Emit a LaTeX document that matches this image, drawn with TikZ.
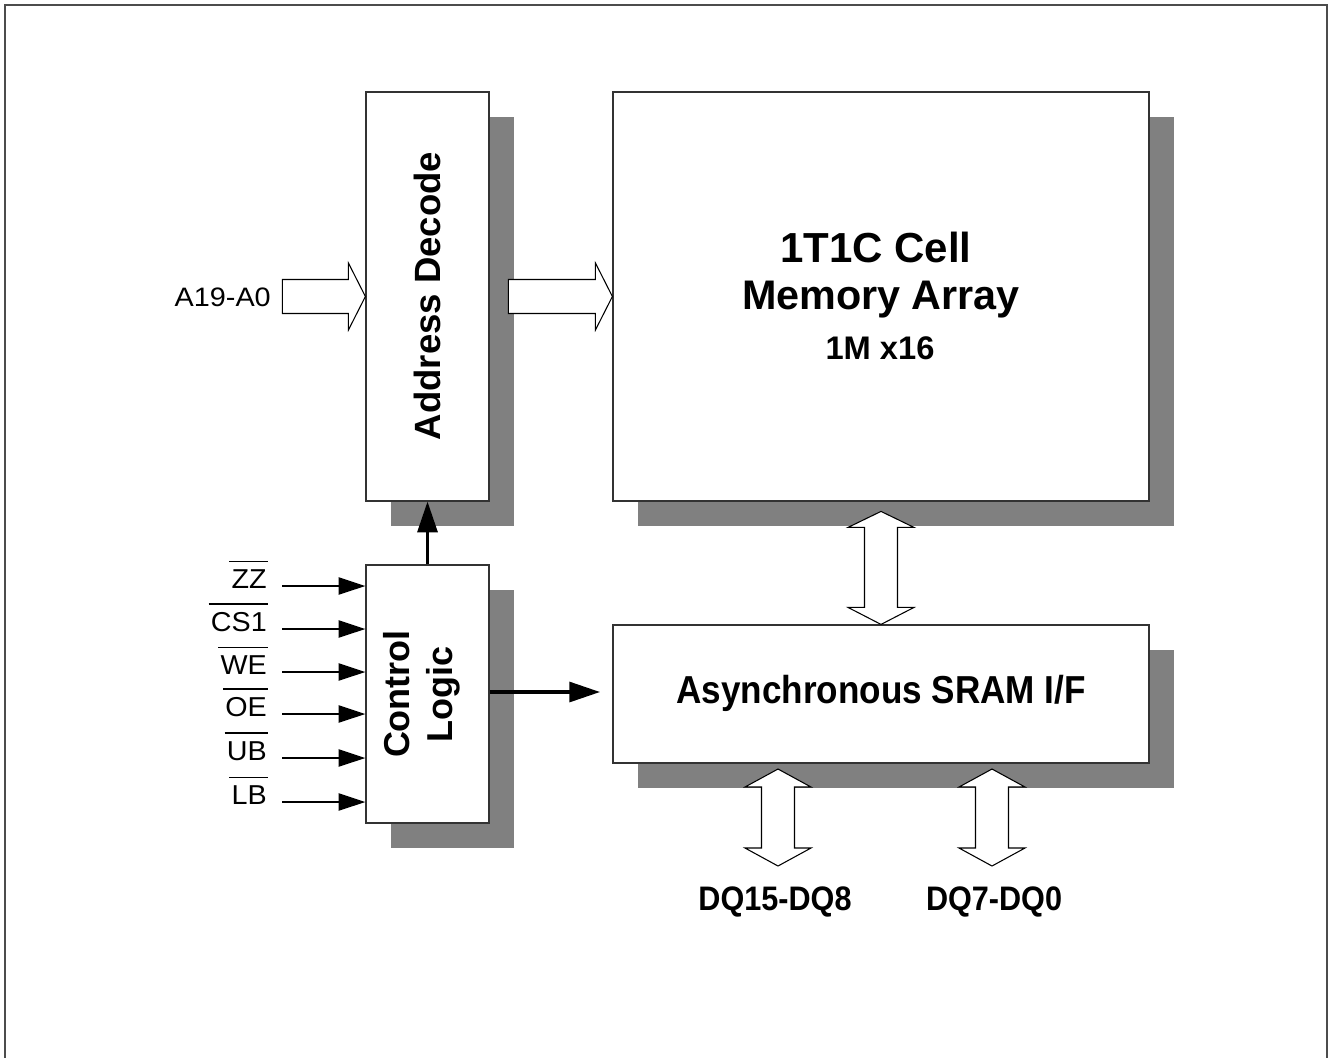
\documentclass[tikz,border=0pt]{standalone}
\usepackage{fontspec}
\setmainfont{Liberation Sans}
\usetikzlibrary{arrows.meta,shadows,calc}
\definecolor{shadowgray}{HTML}{808080}
\begin{document}
\begin{tikzpicture}[x=0.75pt,y=-0.75pt,
  box/.style={draw=black!80, line width=0.9pt, fill=white, inner sep=0pt,
    drop shadow={fill=shadowgray, opacity=1, shadow xshift=18.75pt, shadow yshift=-19pt}},
  hollow/.style={draw=black, line width=0.8pt, fill=white, line join=miter},
  sig/.style={line width=1.5pt, -{Triangle[length=20pt,width=12.75pt]}},
  busarrow/.style={line width=2.3pt, -{Triangle[length=23pt,width=15pt]}},
  lbl/.style={inner sep=0pt, anchor=east, font=\fontsize{20.5}{24}\selectfont},
  bar/.style={line width=1.2pt},
  frame/.style={draw=black!70, line width=1.5pt}
]
\useasboundingbox (0,0) rectangle (1330,1057);
\draw[frame] (5,1060) -- (5,5) -- (1327,5) -- (1327,1060);

% boxes
\node[box, minimum width=92.25pt, minimum height=306.75pt] (ad) at (427.5,296.5) {};
\node[box, minimum width=402pt, minimum height=306.75pt] (mem) at (881,296.5) {};
\node[box, minimum width=92.25pt, minimum height=193.5pt] (cl) at (427.5,694) {};
\node[box, minimum width=402pt, minimum height=103.5pt] (sram) at (881,694) {};

% box texts
\node[rotate=90, inner sep=0pt, font=\bfseries\fontsize{27.4}{32}\selectfont] (adtext) at (427,296) {Address Decode};
\node[rotate=90, inner sep=0pt, align=center, font=\bfseries\fontsize{27}{32.25}\selectfont] (cltext) at (421.5,694) {Control\\Logic};
\node[inner sep=0pt, font=\bfseries\fontsize{31.5}{36}\selectfont] (memt1) at (876,247) {1T1C Cell};
\node[inner sep=0pt, font=\bfseries\fontsize{31}{36}\selectfont] (memt2) at (881,300) {Memory Array};
\node[inner sep=0pt, font=\bfseries\fontsize{24.5}{28}\selectfont] (memt3) at (880,348) {1M x16};
\node[inner sep=0pt, font=\bfseries\fontsize{29.25}{34}\selectfont] (sramt) at (881,693) {\scalebox{0.9}[1]{Asynchronous SRAM I/F}};

% address bus hollow arrows
\draw[hollow] (ad.west) -- ++(-17,-33.5) -- ++(0,16.5) -- ++(-66,0) -- ++(0,34) -- ++(66,0) -- ++(0,16.5) -- cycle;
\node[lbl, font=\fontsize{20}{24}\selectfont] (a19) at (271,297) {\scalebox{1.08}[1]{A19-A0}};
\draw[hollow] (mem.west) -- ++(-17,-33.5) -- ++(0,16.5) -- ++(-87,0) -- ++(0,34) -- ++(87,0) -- ++(0,16.5) -- cycle;

% memory <-> sram
\draw[hollow] (sram.north) -- ++(-33,-17) -- ++(16.5,0) -- ++(0,-80) -- ++(-16.5,0) -- ++(33,-16) -- ++(33,16) -- ++(-16.5,0) -- ++(0,80) -- ++(16.5,0) -- cycle;

% DQ arrows
\coordinate (dqa) at (778,866);
\coordinate (dqb) at (992,866);
\draw[hollow] (dqa) -- ++(-33,-18) -- ++(16.5,0) -- ++(0,-61) -- ++(-16.5,0) -- ++(33,-18) -- ++(33,18) -- ++(-16.5,0) -- ++(0,61) -- ++(16.5,0) -- cycle;
\draw[hollow] (dqb) -- ++(-33,-18) -- ++(16.5,0) -- ++(0,-61) -- ++(-16.5,0) -- ++(33,-18) -- ++(33,18) -- ++(-16.5,0) -- ++(0,61) -- ++(16.5,0) -- cycle;
\node[inner sep=0pt, font=\bfseries\fontsize{25.5}{30}\selectfont] (dq15) at (775,902) {\scalebox{0.9}[1]{DQ15-DQ8}};
\node[inner sep=0pt, font=\bfseries\fontsize{25.5}{30}\selectfont] (dq7) at (994,902) {\scalebox{0.9}[1]{DQ7-DQ0}};

% control signals
\foreach \n/\t/\y in {zz/ZZ/586, cs/CS1/629, we/WE/672, oe/OE/714, ub/UB/758, lb/LB/802}{
  \node[lbl] (l\n) at (267,\y-7) {\scalebox{1.05}[1]{\t}};
  \draw[bar] ([xshift=-1.5pt,yshift=6pt]l\n.north west) -- ([xshift=0.75pt,yshift=6pt]l\n.north east);
  \coordinate (s\n) at (282,\y);
  \draw[sig] (s\n) -- (s\n -| cl.west);
}

% control connections
\draw[busarrow] (cl.north) -- (ad.south);
\coordinate (srin) at (600,692);
\draw[busarrow] (cl.east |- srin) -- (srin);
\end{tikzpicture}
\end{document}
